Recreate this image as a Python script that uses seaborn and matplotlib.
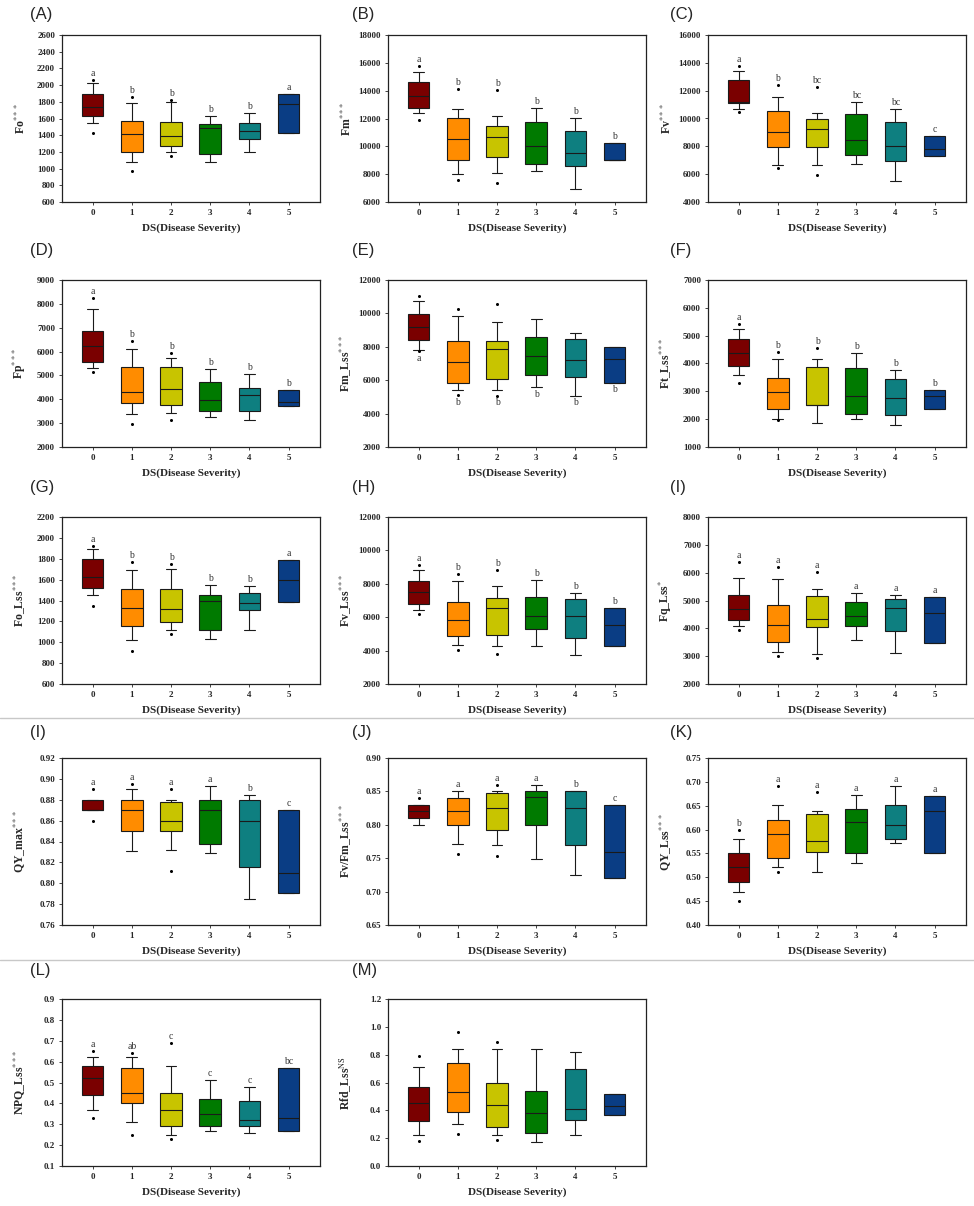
import numpy as np
import pandas as pd
import matplotlib
matplotlib.use("Agg")
import matplotlib.pyplot as plt
from matplotlib.lines import Line2D
import seaborn as sns

# ---------------- data ----------------
groups = ["0", "1", "2", "3", "4", "5"]
colors = ["#7a0000", "#ff8c00", "#c8c400", "#007a00", "#0e7f80", "#0a3d84"]

# per group: [whisker low, Q1, median, Q3, whisker high]
fo_box = [[1545, 1625, 1740, 1890, 2025], [1080, 1200, 1410, 1575, 1780],
          [1200, 1275, 1385, 1560, 1800], [1075, 1180, 1485, 1535, 1635],
          [1195, 1350, 1455, 1550, 1670], [1425, 1425, 1775, 1890, 1890]]
fo_out = [[2060, 1430], [1860, 970], [1825, 1150], [], [], []]
fo_let = ["a", "b", "b", "b", "b", "a"]

fm_box = [[12400, 12750, 13650, 14650, 15350], [8000, 9050, 10550, 12050, 12650],
          [8050, 9200, 10700, 11450, 12150], [8250, 8700, 10020, 11720, 12750],
          [6950, 8600, 9500, 11100, 12070], [9050, 9050, 9050, 10270, 10270]]
fm_out = [[15800, 11900], [14100, 7570], [14050, 7330], [], [], []]
fm_let = ["a", "b", "b", "b", "b", "b"]

fv_box = [[10700, 11100, 11150, 12780, 13400], [6670, 7930, 9020, 10550, 11540],
          [6690, 7930, 9280, 9960, 10420], [6740, 7350, 8440, 10300, 11220],
          [5500, 6980, 8020, 9720, 10690], [7270, 7270, 7830, 8730, 8730]]
fv_out = [[13770, 10450], [12440, 6420], [12270, 5940], [], [], []]
fv_let = ["a", "b", "bc", "bc", "bc", "c"]

fp_box = [[5310, 5560, 6230, 6860, 7770], [3370, 3840, 4290, 5350, 6090],
          [3440, 3750, 4430, 5370, 5750], [3240, 3500, 3980, 4720, 5280],
          [3130, 3500, 4180, 4460, 5070], [3725, 3725, 3870, 4390, 4390]]
fp_out = [[8250, 5140], [6440, 2980], [5920, 3150], [], [], []]
fp_let = ["a", "b", "b", "b", "b", "b"]

fmlss_box = [[7800, 8400, 9170, 9960, 10730], [5430, 5840, 7070, 8360, 9820],
             [5430, 6080, 7860, 8360, 9510], [5580, 6320, 7450, 8600, 9660],
             [5070, 6180, 7230, 8440, 8800], [5840, 5840, 7250, 7960, 7960]]
fmlss_out = [[11070, 7740], [10240, 5110], [10540, 5070], [], [], []]
fmlss_let = ["a", "b", "b", "b", "b", "b"]

ftlss_box = [[3570, 3900, 4360, 4870, 5230], [1990, 2380, 2990, 3470, 4150],
             [1870, 2500, 2520, 3870, 4150], [1990, 2200, 2820, 3840, 4360],
             [1780, 2140, 2750, 3450, 3780], [2360, 2360, 2820, 3060, 3060]]
ftlss_out = [[5410, 3300], [4420, 1960], [4540], [], [], []]
ftlss_let = ["a", "b", "b", "b", "b", "b"]

folss_box = [[1450, 1517, 1625, 1797, 1894], [1025, 1160, 1324, 1511, 1688],
             [1121, 1196, 1315, 1511, 1701], [1034, 1121, 1395, 1453, 1553],
             [1121, 1308, 1373, 1476, 1540], [1382, 1382, 1598, 1791, 1791]]
folss_out = [[1926, 1350], [1765, 912], [1749, 1076], [], [], []]
folss_let = ["a", "b", "b", "b", "b", "a"]

fvlss_box = [[6430, 6770, 7490, 8160, 8840], [4310, 4860, 5820, 6890, 8140],
             [4250, 4960, 6530, 7130, 7840], [4250, 5320, 6060, 7190, 8240],
             [3710, 4780, 6060, 7090, 7430], [4250, 4250, 5560, 6530, 6530]]
fvlss_out = [[9100, 6190], [8600, 4010], [8840, 3810], [], [], []]
fvlss_let = ["a", "b", "b", "b", "b", "b"]

fqlss_box = [[4080, 4290, 4680, 5190, 5800], [3150, 3520, 4110, 4850, 5790],
             [3090, 4050, 4350, 5160, 5400], [3590, 4080, 4440, 4950, 5280],
             [3110, 3920, 4720, 5070, 5190], [3470, 3470, 4540, 5110, 5110]]
fqlss_out = [[6380, 3930], [6190, 3010], [6020, 2940], [], [], []]
fqlss_let = ["a", "a", "a", "a", "a", "a"]

qymax_box = [[0.870, 0.870, 0.870, 0.880, 0.880], [0.831, 0.850, 0.870, 0.880, 0.890],
             [0.8315, 0.850, 0.860, 0.8775, 0.880], [0.829, 0.838, 0.870, 0.880, 0.8927],
             [0.785, 0.8157, 0.860, 0.880, 0.885], [0.7906, 0.7906, 0.810, 0.870, 0.870]]
qymax_out = [[0.890, 0.860], [0.895], [0.890, 0.8115], [], [], []]
qymax_let = ["a", "a", "a", "a", "b", "c"]

fvfm_box = [[0.800, 0.810, 0.820, 0.830, 0.830], [0.772, 0.800, 0.820, 0.840, 0.850],
            [0.770, 0.792, 0.8257, 0.847, 0.850], [0.749, 0.799, 0.841, 0.850, 0.860],
            [0.725, 0.7695, 0.8257, 0.850, 0.850], [0.720, 0.720, 0.760, 0.830, 0.830]]
fvfm_out = [[0.840], [0.756], [0.860, 0.753], [], [], []]
fvfm_let = ["a", "a", "a", "a", "b", "c"]

qylss_box = [[0.470, 0.490, 0.522, 0.551, 0.581], [0.521, 0.541, 0.5915, 0.621, 0.651],
             [0.511, 0.5535, 0.576, 0.632, 0.639], [0.530, 0.551, 0.615, 0.643, 0.673],
             [0.571, 0.581, 0.610, 0.652, 0.691], [0.551, 0.551, 0.639, 0.671, 0.671]]
qylss_out = [[0.600, 0.451], [0.692, 0.511], [0.678], [], [], []]
qylss_let = ["b", "a", "a", "a", "a", "a"]

npq_box = [[0.37, 0.44, 0.52, 0.58, 0.62], [0.31, 0.40, 0.45, 0.57, 0.62],
           [0.25, 0.29, 0.37, 0.45, 0.58], [0.27, 0.29, 0.35, 0.42, 0.51],
           [0.26, 0.29, 0.32, 0.41, 0.48], [0.27, 0.27, 0.33, 0.57, 0.57]]
npq_out = [[0.65, 0.33], [0.64, 0.25], [0.69, 0.23], [], [], []]
npq_let = ["a", "ab", "c", "c", "c", "bc"]

rfd_box = [[0.22, 0.32, 0.45, 0.57, 0.71], [0.30, 0.39, 0.53, 0.74, 0.84],
           [0.22, 0.28, 0.44, 0.60, 0.84], [0.17, 0.24, 0.38, 0.54, 0.84],
           [0.22, 0.33, 0.41, 0.70, 0.82], [0.37, 0.37, 0.43, 0.52, 0.52]]
rfd_out = [[0.79, 0.18], [0.96, 0.23], [0.89, 0.19], [], [], []]
rfd_let = ["", "", "", "", "", ""]

panel_tags = ["(A)", "(B)", "(C)", "(D)", "(E)", "(F)", "(G)", "(H)", "(I)",
              "(I)", "(J)", "(K)", "(L)", "(M)"]
y_names = ["Fo", "Fm", "Fv", "Fp", "Fm_Lss", "Ft_Lss", "Fo_Lss", "Fv_Lss", "Fq_Lss",
           "QY_max", "Fv/Fm_Lss", "QY_Lss", "NPQ_Lss", "Rfd_Lss"]
y_sig = ["***", "***", "***", "***", "***", "***", "***", "***", "*",
         "***", "***", "***", "***", "NS"]
x_title = "DS(Disease Severity)"

# ---------------- style ----------------
sns.set_style("ticks")
plt.rcParams["font.family"] = ["Liberation Serif", "DejaVu Serif"]
plt.rcParams["mathtext.fontset"] = "stix"

W, H = 974, 1206
fig = plt.figure(figsize=(W / 100, H / 100), dpi=100)
fig.patch.set_facecolor("white")

# panel definitions: (data, outliers, letters, ylim, step, fmt, letters_below)
panels = [
    (fo_box, fo_out, fo_let, (600, 2600), 200, "{:.0f}", False),
    (fm_box, fm_out, fm_let, (6000, 18000), 2000, "{:.0f}", False),
    (fv_box, fv_out, fv_let, (4000, 16000), 2000, "{:.0f}", False),
    (fp_box, fp_out, fp_let, (2000, 9000), 1000, "{:.0f}", False),
    (fmlss_box, fmlss_out, fmlss_let, (2000, 12000), 2000, "{:.0f}", True),
    (ftlss_box, ftlss_out, ftlss_let, (1000, 7000), 1000, "{:.0f}", False),
    (folss_box, folss_out, folss_let, (600, 2200), 200, "{:.0f}", False),
    (fvlss_box, fvlss_out, fvlss_let, (2000, 12000), 2000, "{:.0f}", False),
    (fqlss_box, fqlss_out, fqlss_let, (2000, 8000), 1000, "{:.0f}", False),
    (qymax_box, qymax_out, qymax_let, (0.76, 0.92), 0.02, "{:.2f}", False),
    (fvfm_box, fvfm_out, fvfm_let, (0.65, 0.90), 0.05, "{:.2f}", False),
    (qylss_box, qylss_out, qylss_let, (0.40, 0.75), 0.05, "{:.2f}", False),
    (npq_box, npq_out, npq_let, (0.1, 0.9), 0.1, "{:.1f}", False),
    (rfd_box, rfd_out, rfd_let, (0.0, 1.2), 0.2, "{:.1f}", False),
]

col_left = [62, 388, 708]
row_top = [35, 280, 517, 758, 999]
ax_w, ax_h = 258, 167
tag_x = [30, 352, 670]
tag_dy = [20, 30, 29, 25, 29]

for i, (box, out, lets, ylim, step, fmt, below) in enumerate(panels):
    r, c = divmod(i, 3)
    if i >= 12:
        r, c = 4, i - 12
    left, top = col_left[c], row_top[r]
    ax = fig.add_axes([left / W, 1 - (top + ax_h) / H, ax_w / W, ax_h / H])

    df = pd.DataFrame({"DS": np.repeat(groups, 5),
                       "v": np.concatenate([np.asarray(b, float) for b in box])})
    sns.boxplot(data=df, x="DS", y="v", hue="DS", order=groups, hue_order=groups,
                palette=colors, saturation=1, legend=False, whis=np.inf,
                width=0.55, linecolor="#1a1a1a", linewidth=0.8, ax=ax)

    odf = pd.DataFrame({"DS": [g for g, o in zip(groups, out) for _ in o],
                        "v": [v for o in out for v in o]})
    if len(odf):
        sns.stripplot(data=odf, x="DS", y="v", order=groups, jitter=False,
                      color="black", size=2.2, linewidth=0, ax=ax)

    rng = ylim[1] - ylim[0]
    for k, lab in enumerate(lets):
        if not lab:
            continue
        vals = list(box[k]) + list(out[k])
        if below:
            ax.text(k, min(vals) - 0.015 * rng, lab, ha="center", va="top",
                    fontsize=7, color="#333333")
        else:
            ax.text(k, max(vals) + 0.012 * rng, lab, ha="center", va="bottom",
                    fontsize=7, color="#333333")

    ax.set_xlim(-0.78, 5.8)
    ax.set_ylim(*ylim)
    ticks = np.round(np.arange(ylim[0], ylim[1] + step / 2, step), 4)
    ax.set_yticks(ticks)
    ax.set_yticklabels([fmt.format(t) for t in ticks], fontsize=6.5, fontweight="bold")
    ax.set_xticks(range(6))
    ax.set_xticklabels(groups, fontsize=6.5, fontweight="bold")
    ax.tick_params(axis="both", direction="out", length=2, width=0.6, pad=3)
    for s in ax.spines.values():
        s.set_visible(True)
        s.set_linewidth(0.9)
        s.set_color("#222222")

    ax.set_xlabel(x_title, fontsize=8, fontweight="bold")
    ax.xaxis.set_label_coords(0.5, -0.13)
    ylab = y_names[i] + (r"$^{\mathrm{NS}}$" if y_sig[i] == "NS" else "$^{" + y_sig[i] + "}$")
    ax.set_ylabel(ylab, fontsize=8.5, fontweight="bold")
    ax.yaxis.set_label_coords(-0.13, 0.5)

    fig.text(tag_x[c] / W, 1 - (top - tag_dy[r]) / H, panel_tags[i],
             fontsize=12, family=["Liberation Sans", "DejaVu Sans"],
             ha="left", va="center")

for yy in (718, 960):
    fig.add_artist(Line2D([0, 1], [1 - yy / H] * 2, color="#c8c8c8", lw=1,
                          transform=fig.transFigure))

fig.savefig("out.png", dpi=100, facecolor="white")
